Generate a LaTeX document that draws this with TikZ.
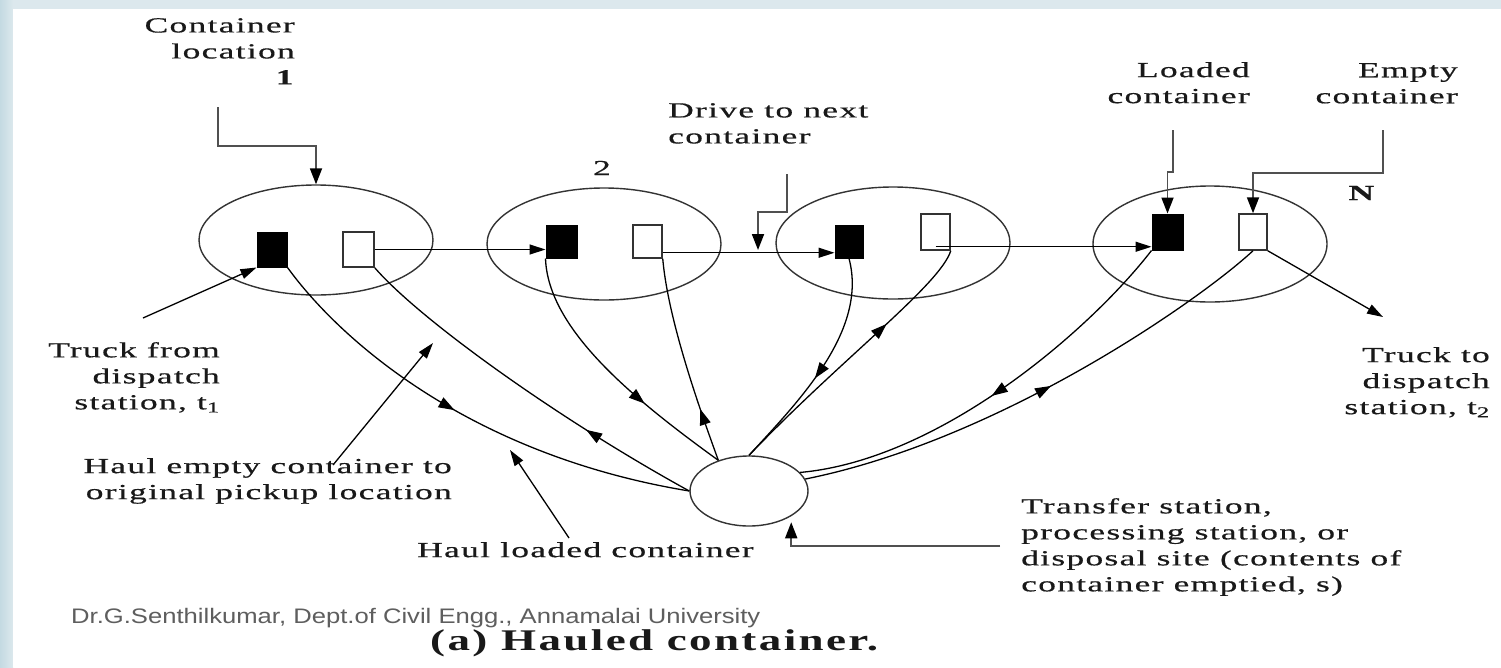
\documentclass[tikz,border=0pt]{standalone}
\usepackage{fontspec}
\setmainfont{Liberation Serif}
\newfontfamily\lblfont[FakeStretch=1.65,LetterSpace=6,FakeBold=0.5]{Liberation Serif}
\newfontfamily\capfont[FakeStretch=1.5,LetterSpace=8]{Liberation Serif}
\newfontfamily\wmfont[FakeStretch=1.22]{Liberation Sans}
\usetikzlibrary{arrows.meta,decorations.markings,shapes.geometric}
\definecolor{bgblue}{HTML}{DCE8ED}
\definecolor{bgleft}{HTML}{C4DAE2}
\definecolor{wmgray}{HTML}{5E5E5E}
\definecolor{leadgray}{HTML}{505050}
\begin{document}
\begin{tikzpicture}[x=1pt,y=-1pt,
  ring/.style={draw=black!80, line width=1.4pt, ellipse, inner sep=0pt, minimum width=234pt, minimum height=112pt},
  full/.style={fill=black, draw=black, inner sep=0pt, line width=1pt},
  hollow/.style={fill=white, draw=black!80, inner sep=0pt, line width=1.5pt},
  link/.style={line width=1.3pt, -{Triangle[length=16pt,width=10pt]}},
  route/.style={line width=1.3pt},
  leader/.style={draw=leadgray, line width=1.8pt, -{Triangle[length=16pt,width=12pt,color=black]}},
  lbl/.style={inner sep=0pt, text=black!90, font=\lblfont\fontsize{21.5}{26}\selectfont},
  fwd/.style={postaction={decorate}, decoration={markings, mark=at position #1 with {\arrow{Triangle[length=16pt,width=11pt]}}}},
  bwd/.style={postaction={decorate}, decoration={markings, mark=at position #1 with {\arrowreversed{Triangle[length=16pt,width=11pt]}}}},
]
\useasboundingbox (0,0) rectangle (1501,667);
\fill[bgblue] (0,0) rectangle (1501,667);
\shade[left color=bgleft, right color=bgblue] (0,0) rectangle (13,667);
\fill[white] (13,9) rectangle (1501,667);

% container locations
\node[ring, minimum height=110pt] (c1) at (316,240) {};
\node[ring] (c2) at (604,244) {};
\node[ring] (c3) at (893,243) {};
\node[ring, minimum height=116pt] (c4) at (1210,244) {};
\node[ring, minimum width=118pt, minimum height=70pt] (st) at (749,491) {};

% containers
\node[full, minimum width=30pt, minimum height=35pt] (f1) at (272,249.5) {};
\node[hollow, minimum width=31pt, minimum height=35pt] (e1) at (358.5,249.5) {};
\node[full, minimum width=31pt, minimum height=33pt] (f2) at (561.5,241.5) {};
\node[hollow, minimum width=29pt, minimum height=33pt] (e2) at (647.5,241.5) {};
\node[full, minimum width=28pt, minimum height=33pt] (f3) at (849,241.5) {};
\node[hollow, minimum width=29pt, minimum height=36pt] (e3) at (935.5,232) {};
\node[full, minimum width=31pt, minimum height=36pt] (f4) at (1167.5,232) {};
\node[hollow, minimum width=28pt, minimum height=36pt] (e4) at (1253,232) {};

% drive to next container
\draw[link] (e1.east) -- (e1.east -| f2.west);
\coordinate (l2) at ([yshift=6pt]e2.south east);
\draw[link] (l2) -- (l2 -| f3.west);
\coordinate (l3) at ([yshift=4pt]e3.south);
\draw[link] (l3) -- (l3 -| f4.west);

% haul routes
\draw[route, fwd=0.47] (f1.south east) .. controls (340,340) and (470,455) .. (st.west);
\draw[route, bwd=0.69] (e1.south east) .. controls (420,320) and (560,420) .. (st.west);
\draw[route, fwd=0.66] (f2.south west) .. controls (548,330) and (635,400) .. (st.135);
\draw[route, bwd=0.74] (e2.south east) .. controls (668,320) and (700,410) .. (st.135);
\draw[route, fwd=0.56] (f3.south) .. controls (868,330) and (800,400) .. (st.north);
\draw[route, bwd=0.34] (e3.south east) .. controls (940,285) and (840,360) .. (st.north);
\draw[route, fwd=0.51] (f4.south west) .. controls (1090,330) and (940,460) .. (st.20);
\draw[route, bwd=0.48] (e4.south) .. controls (1200,300) and (1000,440) .. (st.12);

% label leaders
\coordinate (cl) at (218,107);
\draw[leader] (cl) -- ++(0,39) -| (c1.north);
\coordinate (dv) at (787,174);
\coordinate (dvtip) at (758,250);
\draw[leader] (dv) -- ++(0,38) -| (dvtip);
\coordinate (ld) at (1173,130);
\draw[leader] (ld) -- ++(0,42) -| (f4.north);
\coordinate (em) at (1383,130);
\draw[leader] (em) -- ++(0,43) -| (e4.north);
\coordinate (tr) at (1000,546);
\draw[leader] (tr) -| ([yshift=-6pt]st.south east);
\coordinate (tf) at (143,318);
\draw[link] (tf) -- (f1.south west);
\coordinate (he) at (333,465);
\coordinate (het) at (433,343);
\draw[link] (he) -- (het);
\coordinate (hl) at (569,538);
\coordinate (hlt) at (510,450);
\draw[link] (hl) -- (hlt);
\coordinate (tt) at (1383,317);
\draw[link] (e4.south east) -- (tt);

% labels
\node[lbl, anchor=north east, align=right] (lbcl) at (295,18) {Container\\location\\\textbf{1}};
\node[lbl, anchor=north west, align=left] (lbdv) at (668,103) {Drive to next\\container};
\node[lbl] (n2) at (602,168) {2};
\node[lbl, anchor=north east, align=right] (lbld) at (1250,62) {Loaded\\container};
\node[lbl, anchor=north east, align=right] (lbem) at (1458,63) {Empty\\container};
\node[lbl] (nN) at (1362,193) {\textbf{N}};
\node[lbl, anchor=north east, align=right] (lbt2) at (1490,347) {Truck to\\dispatch\\station, t\textsubscript{2}};
\node[lbl, anchor=north east, align=right] (lbt1) at (220,342) {Truck from\\dispatch\\station, t\textsubscript{1}};
\node[lbl, anchor=north east, align=right] (lbhe) at (452,458) {Haul empty container to\\original pickup location};
\node[lbl, anchor=north west] (lbhl) at (417,542) {Haul loaded container};
\node[lbl, anchor=north west, align=left] (lbtr) at (1021,498) {Transfer station,\\processing station, or\\disposal site (contents of\\container emptied, s)};
\node[inner sep=0pt, anchor=base west, text=black!90, font=\capfont\bfseries\fontsize{30}{36}\selectfont] (cap) at (430,650) {(a) Hauled container.};
\node[inner sep=0pt, anchor=base west, text=wmgray, font=\wmfont\fontsize{21}{25}\selectfont] (wm) at (71,623) {Dr.G.Senthilkumar, Dept.of Civil Engg., Annamalai University};
\end{tikzpicture}
\end{document}
